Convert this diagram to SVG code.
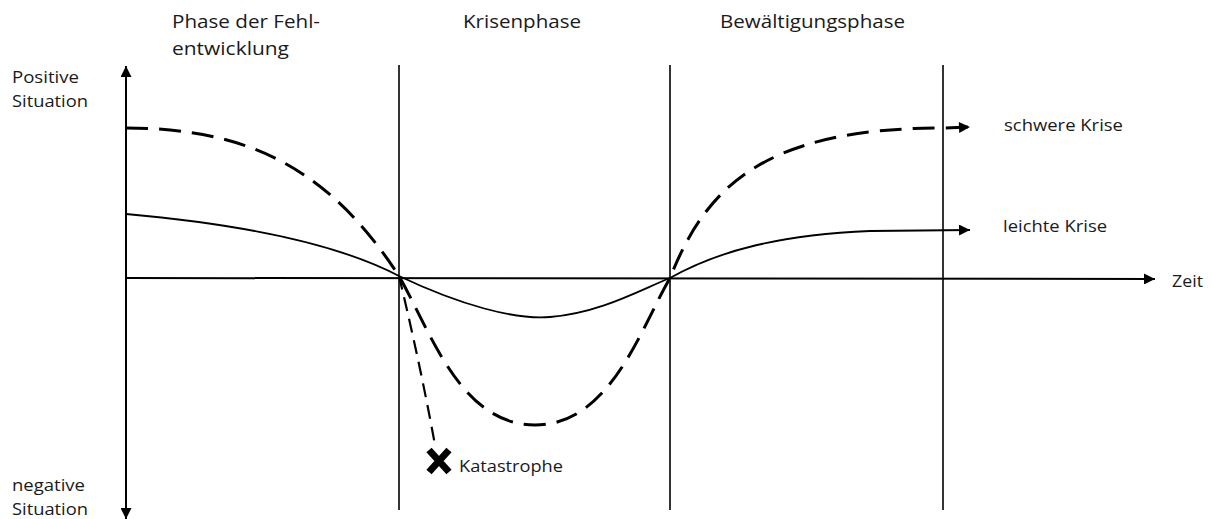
<svg xmlns="http://www.w3.org/2000/svg" width="1212" height="519" viewBox="0 0 1212 519">
<style>
text{font-family:"Open Sans","Liberation Sans",sans-serif;fill:#1a1a1a}
.h{font-size:19px}
.s{font-size:17px}
.ax{stroke:#000;stroke-width:2;fill:none}
.vl{stroke:#000;stroke-width:1.6;fill:none}
.dash{stroke:#000;stroke-width:3;fill:none;stroke-dasharray:22 11}
.sol{stroke:#000;stroke-width:1.8;fill:none}
.kat{stroke:#000;stroke-width:2.2;fill:none;stroke-dasharray:14 8}
</style>
<defs>
<marker id="ah" viewBox="0 0 10 10" refX="10" refY="5" markerWidth="13" markerHeight="11" markerUnits="userSpaceOnUse" orient="auto"><path d="M0,0 L10,5 L0,10 z" fill="#000"/></marker>
</defs>
<rect width="1212" height="519" fill="#fff"/>
<g id="axes">
<line class="ax" x1="126" y1="512" x2="126" y2="66" marker-end="url(#ah)"/>
<line class="ax" x1="126" y1="300" x2="126" y2="519" marker-end="url(#ah)"/>
<line class="ax" x1="126" y1="278" x2="1155" y2="279" marker-end="url(#ah)"/>
<line class="vl" x1="399" y1="65" x2="399" y2="510"/>
<line class="vl" x1="670" y1="65" x2="670" y2="510"/>
<line class="vl" x1="943" y1="65" x2="943" y2="510"/>
</g>
<g id="connectors">
<path id="schwer" class="dash" d="M126,128 C250,128 330,170 399,276 C430,330 460,425 535,425 C610,425 640,330 670,278 C705,190 760,128 943,128 L970,127" marker-end="url(#ah)"/>
<path id="leicht" class="sol" d="M126,214 C250,225 340,245 399,276 C460,305 515,320 550,317 C600,313 640,290 670,278 C720,250 780,235 870,231 L970,230" marker-end="url(#ah)"/>
<path id="katline" class="kat" d="M399,276 C412,330 425,390 435,445"/>
</g>
<g id="katastrophe">
<path d="M429,450 L449,472 M449,450 L429,472" stroke="#000" stroke-width="7" stroke-linecap="butt"/>
<text class="s" x="459" y="472" textLength="104" lengthAdjust="spacingAndGlyphs">Katastrophe</text>
</g>
<g id="labels">
<text class="s" x="12" y="83" textLength="67" lengthAdjust="spacingAndGlyphs">Positive</text>
<text class="s" x="12" y="107" textLength="76" lengthAdjust="spacingAndGlyphs">Situation</text>
<text class="s" x="12" y="491" textLength="73" lengthAdjust="spacingAndGlyphs">negative</text>
<text class="s" x="12" y="515" textLength="76" lengthAdjust="spacingAndGlyphs">Situation</text>
<text class="h" x="172" y="28" textLength="148" lengthAdjust="spacingAndGlyphs">Phase der Fehl-</text>
<text class="h" x="172" y="55" textLength="117" lengthAdjust="spacingAndGlyphs">entwicklung</text>
<text class="h" x="463" y="28" textLength="118" lengthAdjust="spacingAndGlyphs">Krisenphase</text>
<text class="h" x="720" y="28" textLength="185" lengthAdjust="spacingAndGlyphs">Bewältigungsphase</text>
<text class="s" x="1004" y="131" textLength="119" lengthAdjust="spacingAndGlyphs">schwere Krise</text>
<text class="s" x="1003" y="232" textLength="104" lengthAdjust="spacingAndGlyphs">leichte Krise</text>
<text class="s" x="1172" y="287" textLength="31" lengthAdjust="spacingAndGlyphs">Zeit</text>
</g>
</svg>
